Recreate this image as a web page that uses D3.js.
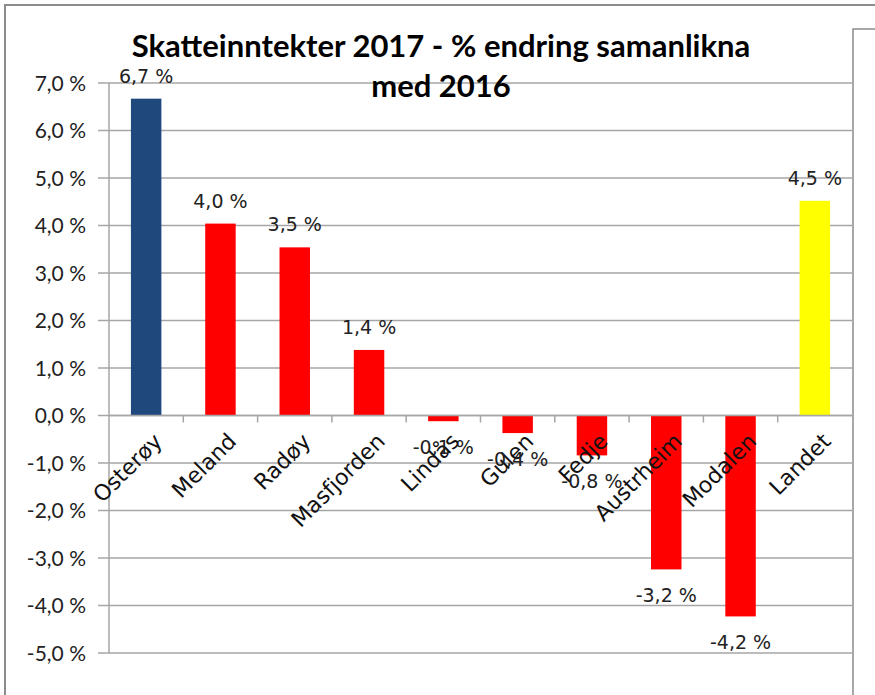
<!DOCTYPE html>
<html>
<head>
<meta charset="utf-8">
<script src="https://cdn.jsdelivr.net/npm/d3@7/dist/d3.min.js"></script>
<style>
  body { margin: 0; background: #fff; }
  svg { display: block; }
</style>
</head>
<body>
<script>
var categories = ["Osterøy", "Meland", "Radøy", "Masfjorden", "Lindås", "Gulen", "Fedje", "Austrheim", "Modalen", "Landet"];
var values = [6.67, 4.04, 3.54, 1.38, -0.12, -0.37, -0.84, -3.24, -4.23, 4.52];
var barColors = ["#1F497D", "#FF0000", "#FF0000", "#FF0000", "#FF0000", "#FF0000", "#FF0000", "#FF0000", "#FF0000", "#FFFF00"];
var yTicks = [-5, -4, -3, -2, -1, 0, 1, 2, 3, 4, 5, 6, 7];
var titleLines = ["Skatteinntekter 2017 - % endring samanlikna", "med 2016"];

var width = 875, height = 695;
var plot = { left: 109, right: 852, top: 83, bottom: 653 };

var fmt = function (v) { return v.toFixed(1).replace(".", ",") + " %"; };

var svg = d3.select("body").append("svg")
    .attr("width", width)
    .attr("height", height);

// outer frame
svg.append("path")
    .attr("d", "M5," + height + " L5,5 L" + width + ",5")
    .attr("fill", "none")
    .attr("stroke", "#8c8c8c")
    .attr("stroke-width", 2);

var x = d3.scaleBand()
    .domain(categories)
    .range([plot.left, plot.right])
    .paddingInner(0.59)
    .paddingOuter(0.295);

var xOuter = d3.scaleBand()
    .domain(categories)
    .range([plot.left, plot.right]);

var y = d3.scaleLinear()
    .domain([-5, 7])
    .range([plot.bottom, plot.top]);

// gridlines
svg.append("g")
    .selectAll("line")
    .data(yTicks)
    .enter().append("line")
    .attr("x1", plot.left - 11)
    .attr("x2", plot.right)
    .attr("y1", function (d) { return y(d); })
    .attr("y2", function (d) { return y(d); })
    .attr("stroke", "#a6a6a6")
    .attr("stroke-width", 1.5);

// y axis labels
svg.append("g")
    .selectAll("text")
    .data(yTicks)
    .enter().append("text")
    .attr("x", plot.left - 23)
    .attr("y", function (d) { return y(d); })
    .attr("dy", "0.36em")
    .attr("text-anchor", "end")
    .attr("font-family", "Lato, sans-serif")
    .attr("font-size", 21)
    .attr("fill", "#222")
    .text(fmt);

// y axis line
svg.append("line")
    .attr("x1", plot.left).attr("x2", plot.left)
    .attr("y1", plot.top).attr("y2", plot.bottom)
    .attr("stroke", "#a6a6a6")
    .attr("stroke-width", 1.5);

// legend / right box
svg.append("path")
    .attr("d", "M" + (plot.right + 1) + "," + height + " L" + (plot.right + 1) + ",29 L" + width + ",29")
    .attr("fill", "none")
    .attr("stroke", "#8c8c8c")
    .attr("stroke-width", 1.5);

// bars
svg.append("g")
    .selectAll("rect")
    .data(values)
    .enter().append("rect")
    .attr("x", function (d, i) { return x(categories[i]); })
    .attr("width", x.bandwidth())
    .attr("y", function (d) { return y(Math.max(0, d)); })
    .attr("height", function (d) { return Math.abs(y(d) - y(0)); })
    .attr("fill", function (d, i) { return barColors[i]; });

// category ticks on zero line
svg.append("g")
    .selectAll("line")
    .data(categories.slice(1))
    .enter().append("line")
    .attr("x1", function (d) { return xOuter(d); })
    .attr("x2", function (d) { return xOuter(d); })
    .attr("y1", y(0))
    .attr("y2", y(0) + 7)
    .attr("stroke", "#a6a6a6")
    .attr("stroke-width", 1.5);

// zero line on top
svg.append("line")
    .attr("x1", plot.left).attr("x2", plot.right)
    .attr("y1", y(0)).attr("y2", y(0))
    .attr("stroke", "#a6a6a6")
    .attr("stroke-width", 1.5);

// category labels
svg.append("g")
    .selectAll("text")
    .data(categories)
    .enter().append("text")
    .attr("transform", function (d) {
        return "translate(" + (x(d) + x.bandwidth() / 2 + 6) + "," + (y(0) + 16) + ") rotate(-45)";
    })
    .attr("text-anchor", "end")
    .attr("dy", "0.72em")
    .attr("font-family", "'DejaVu Sans', Verdana, sans-serif")
    .attr("font-size", 22)
    .attr("fill", "#111")
    .text(function (d) { return d; });

// data labels
svg.append("g")
    .selectAll("text")
    .data(values)
    .enter().append("text")
    .attr("x", function (d, i) { return x(categories[i]) + x.bandwidth() / 2; })
    .attr("y", function (d) { return d >= 0 ? y(d) - 16 : y(d) + 33; })
    .attr("text-anchor", "middle")
    .attr("font-family", "'DejaVu Sans', Verdana, sans-serif")
    .attr("font-size", 19)
    .attr("fill", "#222")
    .text(fmt);

// title
svg.append("g")
    .selectAll("text")
    .data(titleLines)
    .enter().append("text")
    .attr("x", 441)
    .attr("y", function (d, i) { return 57 + i * 40; })
    .attr("text-anchor", "middle")
    .attr("font-family", "Lato, sans-serif")
    .attr("font-weight", "bold")
    .attr("font-size", 31)
    .attr("fill", "#000")
    .text(function (d) { return d; });
</script>
</body>
</html>
